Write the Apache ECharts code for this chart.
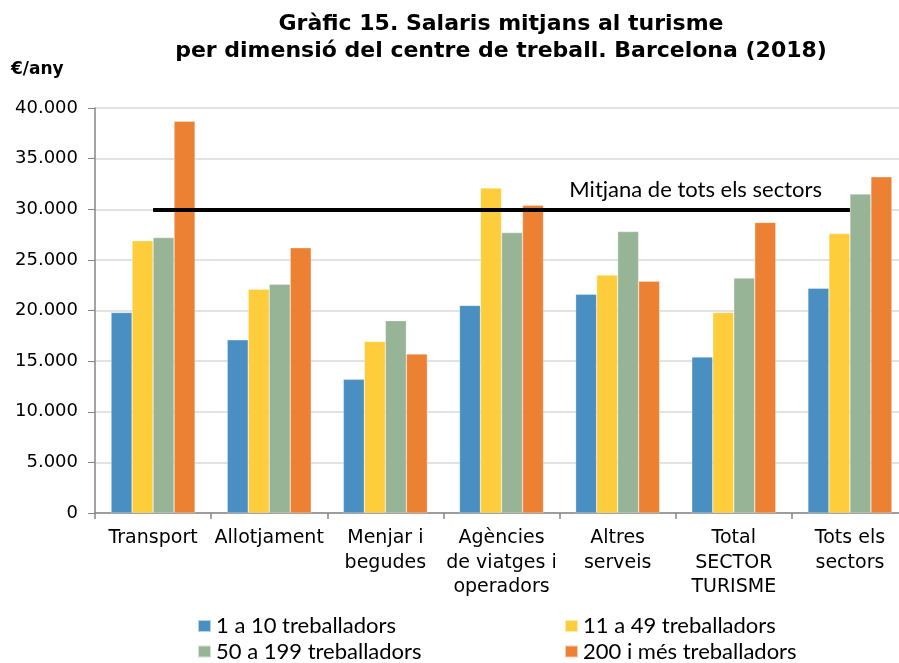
<!DOCTYPE html>
<html>
<head>
<meta charset="utf-8">
<script src="https://cdn.jsdelivr.net/npm/echarts@6/dist/echarts.min.js"></script>
<style>
  html, body { margin: 0; padding: 0; background: #fff; }
  #main { width: 899px; height: 663px; }
</style>
</head>
<body>
<div id="main"></div>
<script>
// categories i dades (llegides del gràfic)
var categories = ['Transport', 'Allotjament', 'Menjar i\nbegudes', 'Agències\nde viatges i\noperadors',
  'Altres\nserveis', 'Total\nSECTOR\nTURISME', 'Tots els\nsectors'];
var seriesNames = ['1 a 10 treballadors', '11 a 49 treballadors', '50 a 199 treballadors', '200 i més treballadors'];
var d1a10 = [19800, 17100, 13200, 20500, 21600, 15400, 22200];
var d11a49 = [26900, 22100, 16950, 32100, 23500, 19800, 27600];
var d50a199 = [27200, 22600, 19000, 27700, 27800, 23200, 31500];
var d200 = [38700, 26200, 15700, 30400, 22900, 28700, 33200];
var mitjana = 30000;
var colors = ['#4a8fc2', '#fecd3c', '#98b497', '#ec8134'];

var myChart = echarts.init(document.getElementById('main'));

function fmt(v) {
    return String(v).replace(/\B(?=(\d{3})+(?!\d))/g, '.');
}

function barSeries(i, data) {
    return {
        name: seriesNames[i],
        type: 'bar',
        data: data,
        barWidth: 21,
        barGap: '0%',
        itemStyle: { color: colors[i], borderColor: 'rgba(255,255,255,0.6)', borderWidth: 0.5 }
    };
}

var legendText = { fontFamily: 'Lato', fontSize: 22, color: '#000', lineHeight: 22 };

var option = {
    animation: false,
    title: {
        text: 'Gràfic 15. Salaris mitjans al turisme\nper dimensió del centre de treball. Barcelona (2018)',
        left: 496,
        textAlign: 'center',
        top: 6,
        textStyle: { fontFamily: 'DejaVu Sans', fontWeight: 'bold', fontSize: 22, lineHeight: 27, color: '#000' }
    },
    graphic: [{
        type: 'text', left: 11, top: 61,
        style: { text: '€/any', font: 'bold 17px "DejaVu Sans"', fill: '#000' }
    }],
    legend: [{
        orient: 'vertical', left: 197, top: 615, height: 60, padding: 0,
        itemWidth: 13, itemHeight: 12, itemGap: 3.5,
        icon: 'rect', textStyle: legendText,
        data: [seriesNames[0], seriesNames[2]]
    }, {
        orient: 'vertical', left: 564, top: 615, height: 60, padding: 0,
        itemWidth: 13, itemHeight: 12, itemGap: 3.5,
        icon: 'rect', textStyle: legendText,
        data: [seriesNames[1], seriesNames[3]]
    }],
    // la graella surt una mica per la dreta, com a l'original
    grid: { left: 95, width: 813, top: 108, bottom: 150, containLabel: false, outerBoundsMode: 'none' },
    xAxis: {
        type: 'category',
        data: categories,
        axisLine: { lineStyle: { color: '#868686', width: 1.5 } },
        axisTick: { show: true, length: 6, lineStyle: { color: '#868686', width: 1.5 } },
        axisLabel: { interval: 0, fontFamily: 'DejaVu Sans', fontSize: 19, color: '#000', lineHeight: 24.5, margin: 13 }
    },
    yAxis: {
        type: 'value',
        min: 0, max: 40000, interval: 5000,
        axisLine: { show: true, lineStyle: { color: '#868686', width: 1.5 } },
        axisTick: { show: true, length: 7, lineStyle: { color: '#868686' } },
        splitLine: { lineStyle: { color: '#d9d9d9', width: 1.5 } },
        axisLabel: { fontFamily: 'DejaVu Sans', fontSize: 18, color: '#000', margin: 17, formatter: fmt }
    },
    series: [
        barSeries(0, d1a10),
        barSeries(1, d11a49),
        barSeries(2, d50a199),
        barSeries(3, d200),
        {
            // línia de la mitjana de tots els sectors
            name: 'Mitjana',
            type: 'line',
            data: [],
            markLine: {
                symbol: ['none', 'none'],
                silent: true,
                lineStyle: { color: '#000', width: 4, type: 'solid' },
                label: {
                    show: true,
                    position: 'insideEndTop',
                    formatter: 'Mitjana de tots els sectors',
                    fontFamily: 'Lato', fontSize: 22, color: '#000',
                    distance: [28, 8]
                },
                data: [[{ coord: [0, mitjana] }, { coord: [6, mitjana] }]]
            }
        }
    ]
};

myChart.setOption(option);
</script>
</body>
</html>
